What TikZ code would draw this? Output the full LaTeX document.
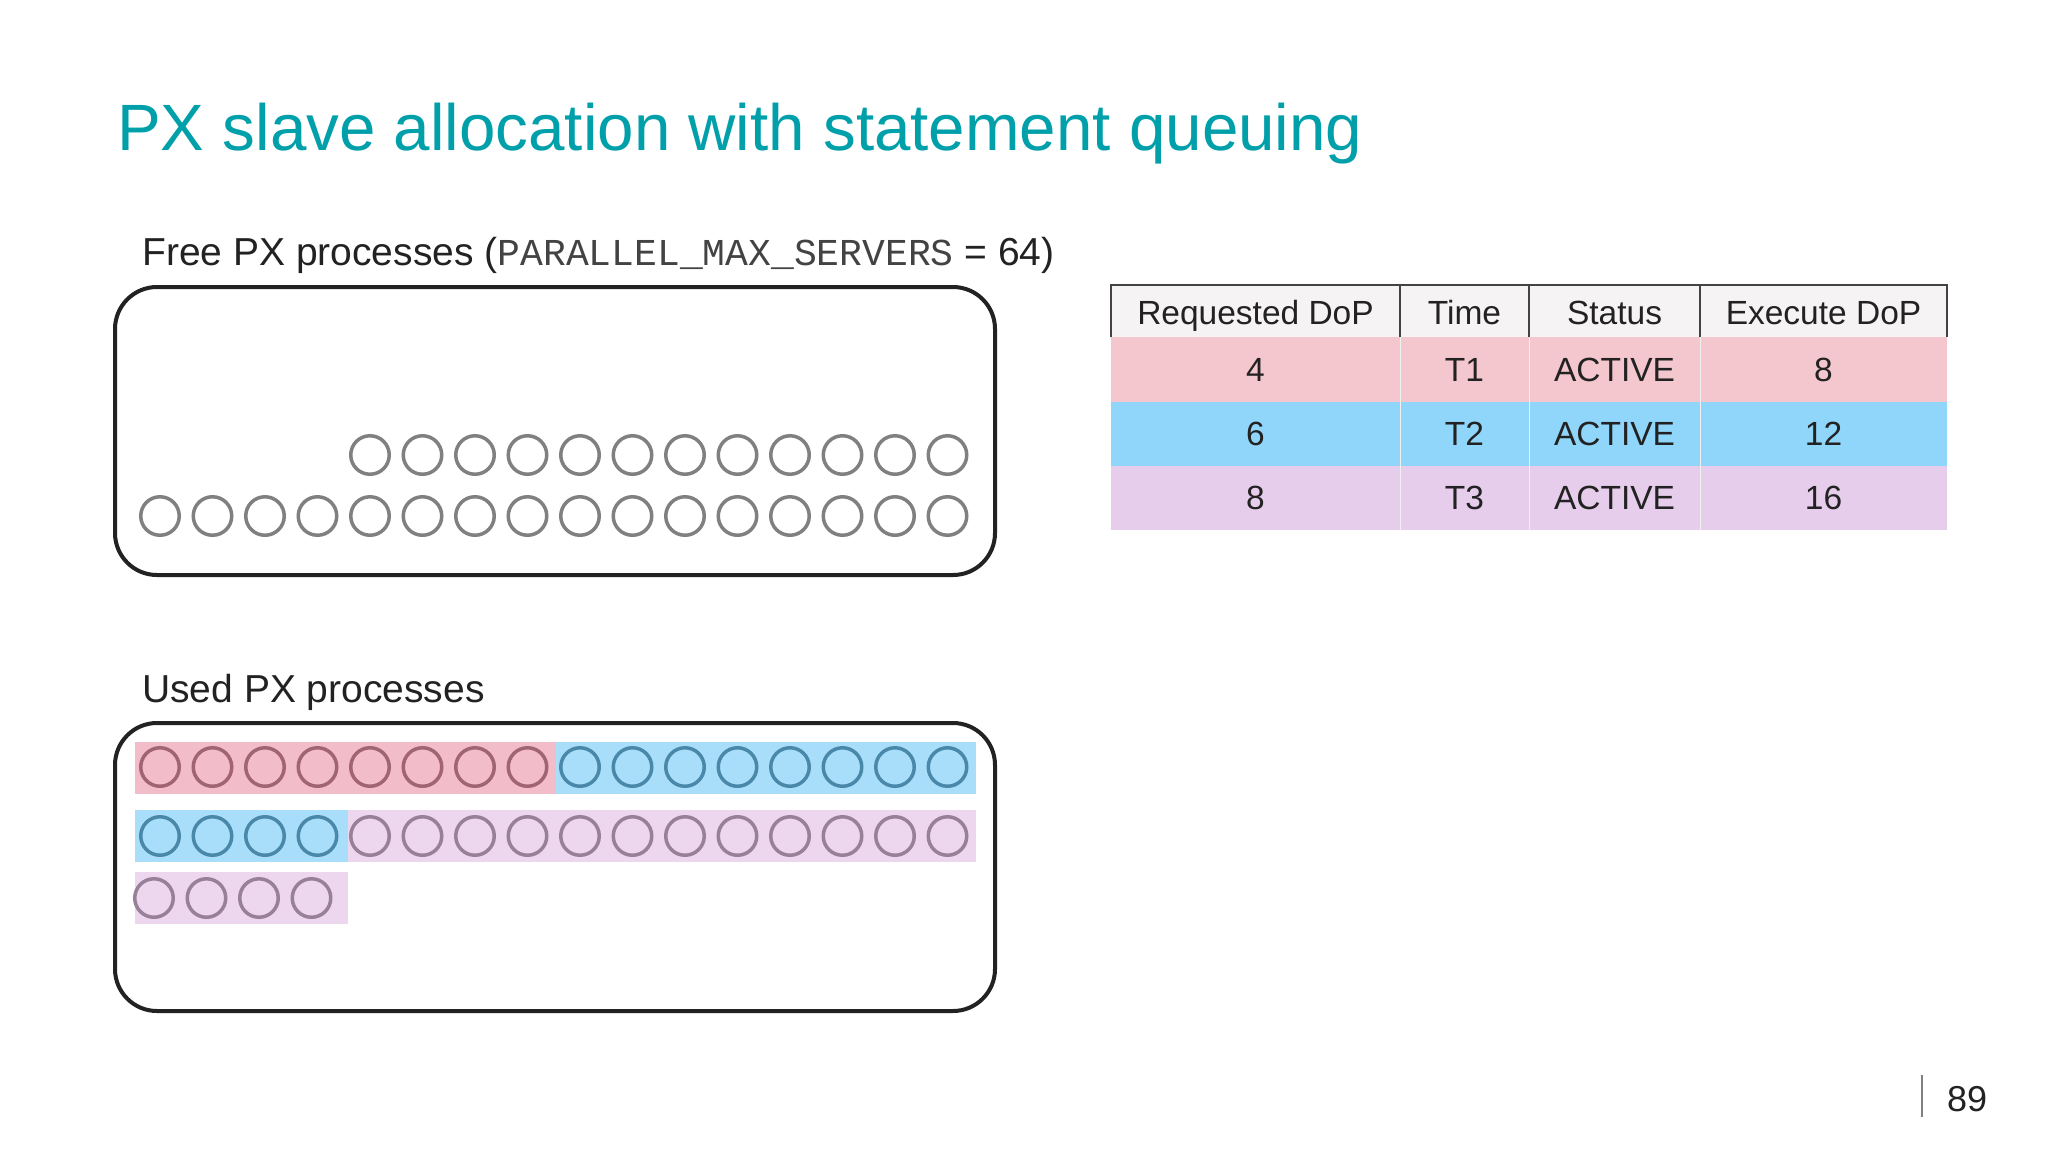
\documentclass[tikz,border=0pt]{standalone}
\usepackage{fontspec}
\setmainfont{Liberation Sans}
\setmonofont{Liberation Mono}
\definecolor{titleteal}{RGB}{0,160,170}
\definecolor{inkdark}{RGB}{34,34,34}
\definecolor{procgray}{RGB}{128,128,128}
\definecolor{procpink}{RGB}{160,100,116}
\definecolor{procblue}{RGB}{74,136,170}
\definecolor{procpurple}{RGB}{152,128,152}
\definecolor{bandpink}{RGB}{242,189,200}
\definecolor{bandblue}{RGB}{169,222,251}
\definecolor{bandpurple}{RGB}{236,215,238}
\definecolor{rowpink}{RGB}{244,199,207}
\definecolor{rowblue}{RGB}{144,214,251}
\definecolor{rowpurple}{RGB}{230,205,235}
\definecolor{headgray}{RGB}{245,243,244}

\begin{document}
\begin{tikzpicture}[x=1pt, y=-1pt,
  proc/.style={circle, draw=procgray, line width=3.5pt, minimum size=38.5pt, inner sep=0pt},
  pool/.style={draw=inkdark, line width=4pt, rounded corners=42pt, minimum width=880pt, minimum height=288pt},
  labeltext/.style={anchor=base west, inner sep=0pt, text=inkdark, font=\fontsize{39}{47}\selectfont},
  celltext/.style={anchor=base, inner sep=0pt, text=inkdark, font=\fontsize{33.5}{40}\selectfont},
  tableline/.style={draw=inkdark!85, line width=2.5pt}]
\path[fill=white, use as bounding box] (0,0) rectangle (2048,1152);

\node[anchor=base west, inner sep=0pt, text=titleteal, font=\fontsize{65.5}{78}\selectfont] (title) at (117,150) {PX slave allocation with statement queuing};

% free pool
\node[labeltext] (freelabel) at (142,265) {Free PX processes ({\color{inkdark!85}\fontsize{38}{47}\selectfont\texttt{PARALLEL\_MAX\_SERVERS}}~=~64)};
\node[pool] (free) at (555,431) {};
\foreach \i in {5,...,16} \node[proc] (freeA\i) at ({160+52.5*(\i-1)},455) {};
\foreach \i in {1,...,16} \node[proc] (freeB\i) at ({160+52.5*(\i-1)},516) {};

% used pool
\node[labeltext] (usedlabel) at (142,702) {Used PX processes};
\node[pool] (used) at (555,867) {};
\fill[bandpink] (135,742) rectangle (556,794);
\fill[bandblue] (556,742) rectangle (976,794);
\fill[bandblue] (135,810) rectangle (348,862);
\fill[bandpurple] (348,810) rectangle (976,862);
\fill[bandpurple] (135,872) rectangle (348,924);
\foreach \i in {1,...,8} \node[proc, draw=procpink] (usedA\i) at ({160+52.5*(\i-1)},767) {};
\foreach \i in {9,...,16} \node[proc, draw=procblue] (usedA\i) at ({160+52.5*(\i-1)},767) {};
\foreach \i in {1,...,4} \node[proc, draw=procblue] (usedB\i) at ({160+52.5*(\i-1)},836) {};
\foreach \i in {5,...,16} \node[proc, draw=procpurple] (usedB\i) at ({160+52.5*(\i-1)},836) {};
\foreach \i in {1,...,4} \node[proc, draw=procpurple] (usedC\i) at ({154+52.5*(\i-1)},898) {};

% queue table
\fill[headgray] (1111,285) rectangle (1947,337);
\fill[rowpink] (1111,337) rectangle (1947,402);
\fill[rowblue] (1111,402) rectangle (1947,466);
\fill[rowpurple] (1111,466) rectangle (1947,530);
\foreach \cx in {1400,1529,1700} \draw[black!6, line width=1pt] (\cx,337) -- (\cx,530);
\draw[tableline] (1111,337) -- (1111,285) -- (1947,285) -- (1947,337);
\foreach \cx in {1400,1529,1700} \draw[tableline] (\cx,285) -- (\cx,337);
\foreach \txt/\cx [count=\c] in {Requested DoP/1255.5, Time/1464.5, Status/1614.5, Execute DoP/1823.5}
  \node[celltext] (head\c) at (\cx,324) {\txt};
\foreach \req/\tm/\exe [count=\r] in {4/T1/8, 6/T2/12, 8/T3/16} {
  \pgfmathsetmacro\by{381+64*(\r-1)}
  \node[celltext] (req\r) at (1255.5,\by) {\req};
  \node[celltext] (time\r) at (1464.5,\by) {\tm};
  \node[celltext] (stat\r) at (1614.5,\by) {ACTIVE};
  \node[celltext] (exec\r) at (1823.5,\by) {\exe};
}

% page number
\coordinate (ruletop) at (1922,1075);
\coordinate (rulebot) at (1922,1117);
\draw[procgray, line width=2pt] (ruletop) -- (rulebot);
\node[anchor=base west, inner sep=0pt, text=inkdark, font=\fontsize{36}{43}\selectfont] (pagenum) at (1947,1111) {89};
\end{tikzpicture}
\end{document}
